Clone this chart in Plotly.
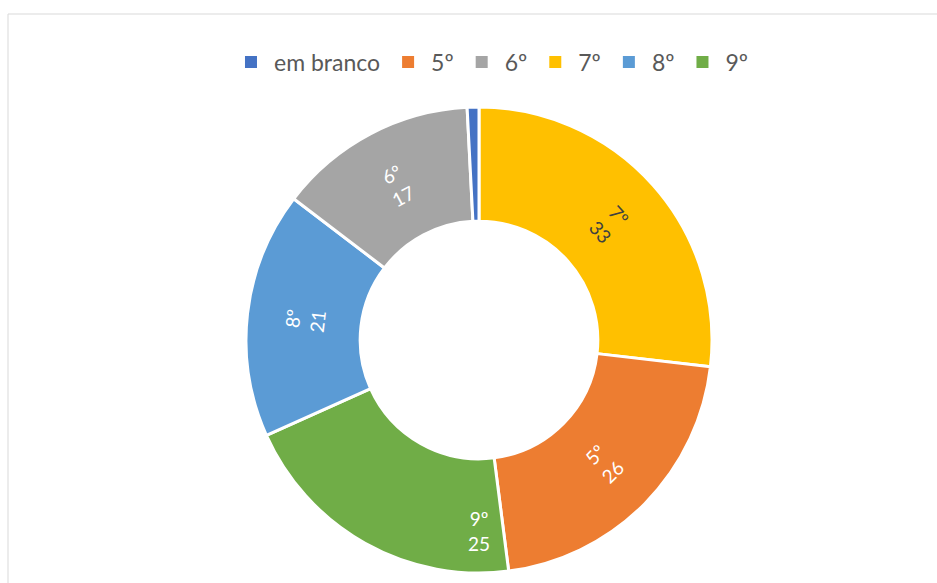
import plotly.graph_objects as go

# slices in clockwise order from 12 o'clock
slice_labels = ['7º', '5º', '9º', '8º', '6º', 'em branco']
slice_values = [33, 26, 25, 21, 17, 1]

# legend order
legend_labels = ['em branco', '5º', '6º', '7º', '8º', '9º']
colors = {
    'em branco': '#4472C4',
    '5º': '#ED7D31',
    '6º': '#A5A5A5',
    '7º': '#FFC000',
    '8º': '#5B9BD5',
    '9º': '#70AD47',
}
text_colors = {lab: ('#404040' if lab == '7º' else 'white') for lab in slice_labels}

W, H = 937, 583
cx, cy, r = 479, 340, 233
font = 'Lato, Noto Sans, sans-serif'

fig = go.Figure()

fig.add_trace(go.Pie(
    labels=slice_labels,
    values=slice_values,
    sort=False,
    direction='clockwise',
    rotation=0,
    hole=0.51,
    marker=dict(colors=[colors[l] for l in slice_labels],
                line=dict(color='white', width=3)),
    texttemplate=['%{label}<br>%{value}' if v > 1 else '' for v in slice_values],
    textposition='inside',
    insidetextorientation='tangential',
    textfont=dict(family=font, size=19,
                  color=[text_colors[l] for l in slice_labels]),
    showlegend=False,
    hoverinfo='label+value+percent',
    domain=dict(x=[(cx - r) / W, (cx + r) / W],
                y=[(H - cy - r) / H, (H - cy + r) / H]),
))

# legend entries in the original order
for lab in legend_labels:
    fig.add_trace(go.Scatter(
        x=[None], y=[None], mode='markers', name=lab,
        marker=dict(symbol='square', size=12, color=colors[lab]),
    ))

fig.update_layout(
    width=W, height=H,
    margin=dict(l=0, r=0, t=0, b=0),
    paper_bgcolor='white',
    plot_bgcolor='white',
    xaxis=dict(visible=False),
    yaxis=dict(visible=False),
    legend=dict(orientation='h', x=0.524, xanchor='center',
                y=1 - 62 / H, yanchor='middle',
                font=dict(family=font, size=23, color='#595959'),
                itemwidth=36, bgcolor='rgba(0,0,0,0)'),
    shapes=[
        dict(type='line', xref='paper', yref='paper',
             x0=8 / W, x1=1, y0=1 - 14 / H, y1=1 - 14 / H,
             line=dict(color='#D9D9D9', width=1)),
        dict(type='line', xref='paper', yref='paper',
             x0=8 / W, x1=8 / W, y0=0, y1=1 - 14 / H,
             line=dict(color='#D9D9D9', width=1)),
    ],
)

fig.write_html('out.html', config={'displayModeBar': False},
               post_script="document.body.style.margin='0';")
